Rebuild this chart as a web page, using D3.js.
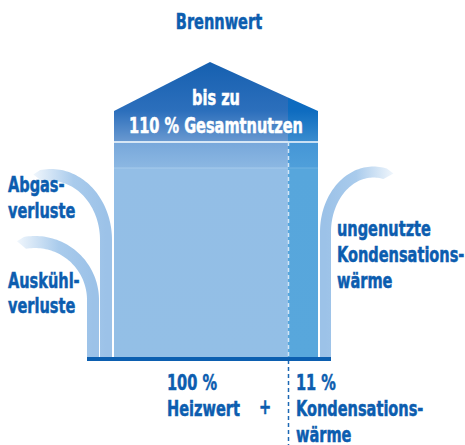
<!DOCTYPE html>
<html>
<head>
<meta charset="utf-8">
<script src="https://cdn.jsdelivr.net/npm/d3@7"></script>
<style>
  body { margin: 0; background: #fff; }
  text { font-family: "DejaVu Sans Condensed", "DejaVu Sans", sans-serif; font-weight: bold; }
</style>
</head>
<body>
<svg id="chart" width="465" height="445"></svg>
<script>
// values
var segmentNames = ["Heizwert", "Kondensationswärme"];
var segmentValues = [100, 11];
var totalValue = 110;
var titleText = "Brennwert";
var roofLines = ["bis zu", totalValue + " % Gesamtnutzen"];
var lossLabels = [["Abgas-", "verluste"], ["Auskühl-", "verluste"]];
var unusedLabel = ["ungenutzte", "Kondensations-", "wärme"];
var bottomLabels = [["100 %", "Heizwert"], ["11 %", "Kondensations-", "wärme"]];

var svg = d3.select("#chart");
var defs = svg.append("defs");
var textColor = "#0c5daf";

// x: percent of Heizwert -> pixels (the condensation part is drawn wider)
var cum = d3.cumsum(segmentValues);
var x = d3.scaleLinear().domain([0, cum[0], cum[1]]).range([114, 288, 318]);
// y: levels of the house
var y = d3.scaleLinear().domain([0, 1]).range([357, 111]);
var peakY = 62, peakX = 210, baseY = y(0), eaveY = y(1);
var band1 = 142, band2 = 168;

function vgrad(id, stops) {
  var g = defs.append("linearGradient").attr("id", id)
    .attr("gradientUnits", "userSpaceOnUse")
    .attr("x1", 0).attr("x2", 0).attr("y1", peakY).attr("y2", baseY);
  stops.forEach(function(s) {
    g.append("stop").attr("offset", (s[0] - peakY) / (baseY - peakY)).attr("stop-color", s[1]);
  });
}
vgrad("gLeft", [[62, "#1660b0"], [111, "#2c6fbc"], [141, "#6898d0"], [141.5, "#d6e6f5"], [143, "#d6e6f5"],
  [143.5, "#78a8db"], [167, "#8bb7e2"], [168, "#a6cbec"], [169, "#93bee6"], [357, "#93bfe6"]]);
vgrad("gRight", [[62, "#0a66bd"], [111, "#0e6cc0"], [141, "#3a8ccf"], [141.5, "#c9e0f4"], [143, "#c9e0f4"],
  [143.5, "#4596d6"], [167, "#4f9fda"], [168, "#6db2e2"], [169, "#57a6dc"], [357, "#58a7dc"]]);

// house body, split by segment
var x0 = x(0), x1 = x(cum[0]), x2 = x(cum[1]);
function roofY(px) {
  return px <= peakX ? eaveY - (eaveY - peakY) * (px - x0) / (peakX - x0)
                     : peakY + (eaveY - peakY) * (px - peakX) / (x2 - peakX);
}
var leftPoly = [[x0, baseY], [x0, eaveY], [peakX, peakY], [x1, roofY(x1)], [x1, baseY]];
var rightPoly = [[x1, baseY], [x1, roofY(x1)], [x2, eaveY], [x2, baseY]];
svg.append("path").attr("d", "M" + leftPoly.join("L") + "Z").attr("fill", "url(#gLeft)");
svg.append("path").attr("d", "M" + rightPoly.join("L") + "Z").attr("fill", "url(#gRight)");

// dashed divider
svg.append("line").attr("x1", x1 + 0.5).attr("x2", x1 + 0.5).attr("y1", band1).attr("y2", baseY)
  .attr("stroke", "#d2e5f6").attr("stroke-width", 1.5).attr("stroke-dasharray", "4,3");
svg.append("line").attr("x1", x1 + 0.5).attr("x2", x1 + 0.5).attr("y1", baseY + 3).attr("y2", 445)
  .attr("stroke", "#1d68b4").attr("stroke-width", 1.5).attr("stroke-dasharray", "4,3");

// curved arrows
var arrows = [
  {stem: [87, 99], yc: 300, rx: 58, ry: 58, dir: -1, tmax: 100},
  {stem: [100, 112], yc: 240, rx: 55, ry: 65, dir: -1, tmax: 100},
  {stem: [320, 331], yc: 232, rx: 48, ry: 60, dir: 1, tmax: 104}
];
arrows.forEach(function(a, i) {
  var xs = (a.stem[0] + a.stem[1]) / 2, hw = (a.stem[1] - a.stem[0]) / 2;
  var cx = xs + a.dir * a.rx, cy = a.yc;
  var outer = [], inner = [];
  var pts = d3.range(0, a.tmax + 1, 2).map(function(t) {
    var r = t * Math.PI / 180;
    var px = cx - a.dir * a.rx * Math.cos(r), py = cy - a.ry * Math.sin(r);
    var tx = a.dir * a.rx * Math.sin(r), ty = -a.ry * Math.cos(r);
    var len = Math.hypot(tx, ty);
    return {x: px, y: py, nx: ty / len, ny: -tx / len, tx: tx / len, ty: ty / len};
  });
  pts.unshift({x: xs, y: baseY, nx: -1, ny: 0, tx: 0, ty: -1});
  pts.forEach(function(p) {
    var s = a.dir > 0 ? 1 : -1;
    outer.push([p.x + s * p.nx * hw, p.y + s * p.ny * hw]);
    inner.push([p.x - s * p.nx * hw, p.y - s * p.ny * hw]);
  });
  var last = pts[pts.length - 1];
  var tip = [outer[outer.length - 1][0] + last.tx * 7, outer[outer.length - 1][1] + last.ty * 7 + 3];
  var poly = outer.concat([tip]).concat(inner.reverse());
  var gid = "gArrow" + i;
  var g = defs.append("linearGradient").attr("id", gid).attr("gradientUnits", "userSpaceOnUse")
    .attr("x1", tip[0]).attr("x2", xs).attr("y1", 0).attr("y2", 0);
  g.append("stop").attr("offset", 0).attr("stop-color", "#f0f6fc");
  g.append("stop").attr("offset", 0.55).attr("stop-color", "#a9cbec");
  g.append("stop").attr("offset", 1).attr("stop-color", "#9cc2e8");
  svg.append("path").attr("d", "M" + poly.join("L") + "Z").attr("fill", "url(#" + gid + ")");
});

// base line
svg.append("rect").attr("x", arrows[0].stem[0]).attr("y", baseY).attr("width", arrows[2].stem[1] - arrows[0].stem[0])
  .attr("height", 4).attr("fill", "#0c5fb0");

// texts (condensed look: squeeze horizontally around the anchor)
var squeeze = 0.77;
function lines(xp, yp, arr, anchor, color, lh) {
  var t = svg.append("text").attr("x", xp).attr("y", yp).attr("text-anchor", anchor || "start")
    .attr("fill", color || textColor).attr("stroke", color || textColor).attr("stroke-width", 0.5)
    .attr("font-size", 21)
    .attr("transform", "translate(" + xp + ",0) scale(" + squeeze + ",1) translate(" + (-xp) + ",0)");
  arr.forEach(function(s, k) {
    t.append("tspan").attr("x", xp).attr("dy", k ? (lh || 25) : 0).text(s);
  });
}
lines(219, 29, [titleText], "middle");
lines(216, 105, roofLines, "middle", "#ffffff", 28);
lines(8, 192, lossLabels[0], "start", textColor, 26);
lines(8, 288, lossLabels[1], "start", textColor, 25);
lines(337, 236, unusedLabel, "start", textColor, 26);
lines(167, 390, bottomLabels[0], "start", textColor, 26);
lines(265, 414, ["+"], "middle");
lines(296, 390, bottomLabels[1], "start", textColor, 26);
</script>
</body>
</html>
